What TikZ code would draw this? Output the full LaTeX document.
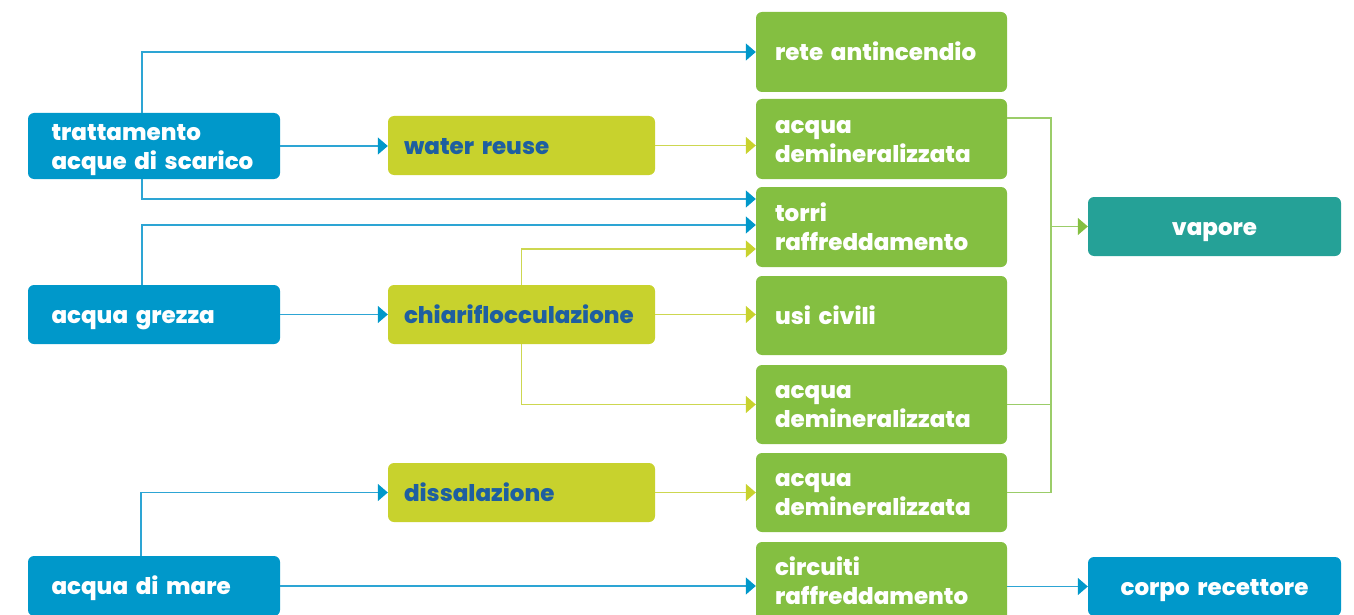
\documentclass[tikz,border=0pt]{standalone}
\usepackage{fontspec}
\setmainfont{Poppins}[BoldFont={Poppins ExtraBold}]
\usetikzlibrary{arrows.meta}
\definecolor{cblue}{RGB}{0,152,202}
\definecolor{clime}{RGB}{200,210,45}
\definecolor{cgreen}{RGB}{132,191,65}
\definecolor{cteal}{RGB}{37,161,151}
\definecolor{ctext}{RGB}{30,95,160}
\definecolor{lblue}{RGB}{45,165,212}
\definecolor{llime}{RGB}{205,215,80}
\definecolor{lgreen}{RGB}{155,205,105}
\newcommand{\topstrut}{\rule{0pt}{24pt}}
\newcommand{\botstrut}{\rule[-7pt]{0pt}{7pt}}
\begin{document}
\begin{tikzpicture}[x=1pt,y=-1pt,
  box/.style={rounded corners=6pt, inner sep=0pt, font=\bfseries\fontsize{23}{29}\selectfont, align=left,
    execute at begin node={\topstrut}, execute at end node={\botstrut}},
  bluebox/.style={box, fill=cblue, text=white, minimum width=252pt, text width=205pt},
  limebox/.style={box, fill=clime, text=ctext, minimum width=267pt, text width=235pt},
  greenbox/.style={box, fill=cgreen, text=white, minimum width=251pt, text width=213pt, minimum height=79pt},
  endbox/.style={box, text=white, minimum width=253pt, text width=253pt, minimum height=59pt, align=center},
  bl/.style={lblue, line width=1.3pt, -{Triangle[length=10pt,width=17pt,color=cblue,fill=cblue]}},
  ll/.style={llime, line width=1.3pt, -{Triangle[length=10pt,width=17pt,color=clime,fill=clime]}},
  lg/.style={lgreen, line width=1.2pt},
  lga/.style={lg, -{Triangle[length=10pt,width=17pt,color=cgreen,fill=cgreen]}}
]
\useasboundingbox (0,0) rectangle (1354,615);
% left sources
\node[bluebox, minimum height=66pt] (t) at (154,146) {trattamento\\acque di scarico};
\node[bluebox, minimum height=59pt] (g) at (154,314.5) {acqua grezza};
\node[bluebox, minimum height=60pt] (m) at (154,586) {acqua di mare};
% processes
\node[limebox, minimum height=59pt] (wr) at (521.5,145.5) {water reuse};
\node[limebox, minimum height=59pt] (ch) at (521.5,314.5) {chiariflocculazione};
\node[limebox, minimum height=59pt] (ds) at (521.5,492.5) {dissalazione};
% uses
\node[greenbox, minimum height=80pt] (ra) at (881.5,52) {rete antincendio};
\node[greenbox, minimum height=80pt] (d1) at (881.5,139) {acqua\\demineralizzata};
\node[greenbox, minimum height=80pt] (tr) at (881.5,227) {torri\\raffreddamento};
\node[greenbox] (uc) at (881.5,315.5) {usi civili};
\node[greenbox] (d2) at (881.5,404.5) {acqua\\demineralizzata};
\node[greenbox] (d3) at (881.5,492.5) {acqua\\demineralizzata};
\node[greenbox] (cr) at (881.5,581.5) {circuiti\\raffreddamento};
% outputs
\node[endbox, fill=cteal] (vap) at (1214.5,226.5) {vapore};
\node[endbox, fill=cblue] (co) at (1214.5,586.5) {corpo recettore};
\coordinate (bx) at (1051,0);
% connectors
\draw[bl] ([xshift=-12pt]t.north) |- (ra.west);
\draw[bl] (t.east) -- (t.east -| wr.west);
\draw[bl] ([xshift=-12pt]t.south) |- ([yshift=28pt]tr.west);
\draw[bl] ([xshift=-12pt]g.north) |- ([yshift=2pt]tr.west);
\draw[bl] (g.east) -- (ch.west);
\draw[ll] (ch.north) |- ([yshift=-22pt]tr.west);
\draw[ll] (ch.east) -- (ch.east -| uc.west);
\draw[ll] (ch.south) |- (d2.west);
\draw[ll] (wr.east) -- (wr.east -| d1.west);
\draw[ll] (ds.east) -- (d3.west);
\draw[bl] ([xshift=-13pt]m.north) |- (ds.west);
\draw[bl] (m.east) -- (m.east -| cr.west);
\draw[bl] (co.west -| cr.east) -- (co.west);
\draw[lg] ([yshift=21pt]d1.east) -| (d3.east -| bx) -- (d3.east);
\draw[lg] (d2.east) -- (d2.east -| bx);
\draw[lga] (vap.west -| bx) -- (vap.west);
\end{tikzpicture}
\end{document}
